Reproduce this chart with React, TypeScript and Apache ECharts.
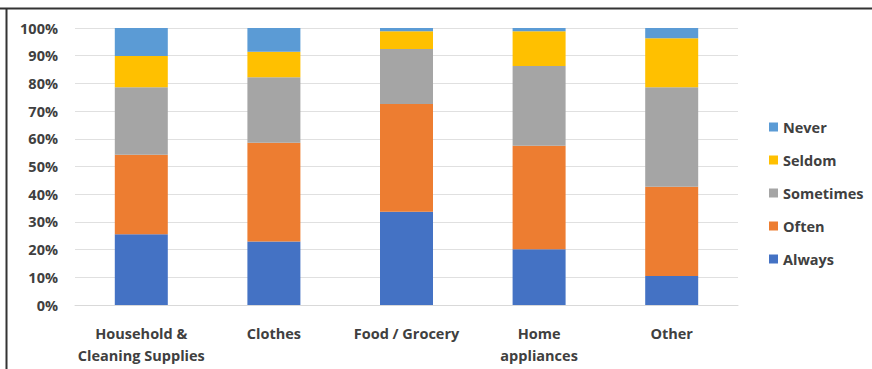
import React, { useEffect, useRef } from "react";
import * as echarts from "echarts";

const categories = ["Household &\nCleaning Supplies", "Clothes", "Food / Grocery", "Home\nappliances", "Other"];
const seriesNames = ["Always", "Often", "Sometimes", "Seldom", "Never"];
const always = [25.5, 22.9, 33.7, 20.1, 10.5];
const often = [28.7, 35.7, 38.9, 37.4, 32.2];
const sometimes = [24.4, 23.6, 19.8, 28.8, 35.9];
const seldom = [11.3, 9.2, 6.4, 12.5, 17.7];
const never = [10.1, 8.6, 1.2, 1.2, 3.7];
const colors = ["#4472C4", "#ED7D31", "#A5A5A5", "#FFC000", "#5B9BD5"];

const FONT = "'Open Sans', sans-serif";

export default function App() {
  const ref = useRef<HTMLDivElement>(null);
  useEffect(() => {
    if (!ref.current) return;
    const chart = echarts.init(ref.current, null, { renderer: "svg" });
    const values = [always, often, sometimes, seldom, never];
    chart.setOption({
      animation: false,
      backgroundColor: "#ffffff",
      grid: { left: 75, right: 134, top: 28, bottom: 64 },
      legend: {
        orient: "vertical",
        left: 764,
        top: 114,
        data: [...seriesNames].reverse(),
        icon: "rect",
        itemWidth: 9,
        itemHeight: 9,
        itemGap: 17,
        textStyle: { fontFamily: FONT, fontSize: 14.5, fontWeight: "bold", color: "#404040", lineHeight: 16 },
      },
      xAxis: {
        type: "category",
        data: categories,
        axisTick: { show: false },
        axisLine: { lineStyle: { color: "#d9d9d9" } },
        axisLabel: {
          fontFamily: FONT,
          fontSize: 14.5,
          fontWeight: "bold",
          color: "#404040",
          margin: 17,
          lineHeight: 22,
          interval: 0,
        },
      },
      yAxis: {
        type: "value",
        min: 0,
        max: 100,
        interval: 10,
        axisLabel: {
          formatter: "{value}%",
          fontFamily: FONT,
          fontSize: 14.5,
          fontWeight: "bold",
          color: "#404040",
          margin: 17,
        },
        splitLine: { lineStyle: { color: "#e0e0e0" } },
      },
      series: seriesNames.map((name, i) => ({
        name,
        type: "bar",
        stack: "total",
        barWidth: 53,
        data: values[i],
        itemStyle: { color: colors[i] },
      })),
      graphic: [
        { type: "line", shape: { x1: 0, y1: 8.5, x2: 872, y2: 8.5 }, style: { stroke: "#333", lineWidth: 2 } },
        { type: "line", shape: { x1: 6.5, y1: 8, x2: 6.5, y2: 369 }, style: { stroke: "#333", lineWidth: 2 } },
      ],
    });
    return () => chart.dispose();
  }, []);
  return <div ref={ref} style={{ position: "fixed", left: 0, top: 0, width: 872, height: 369 }} />;
}
